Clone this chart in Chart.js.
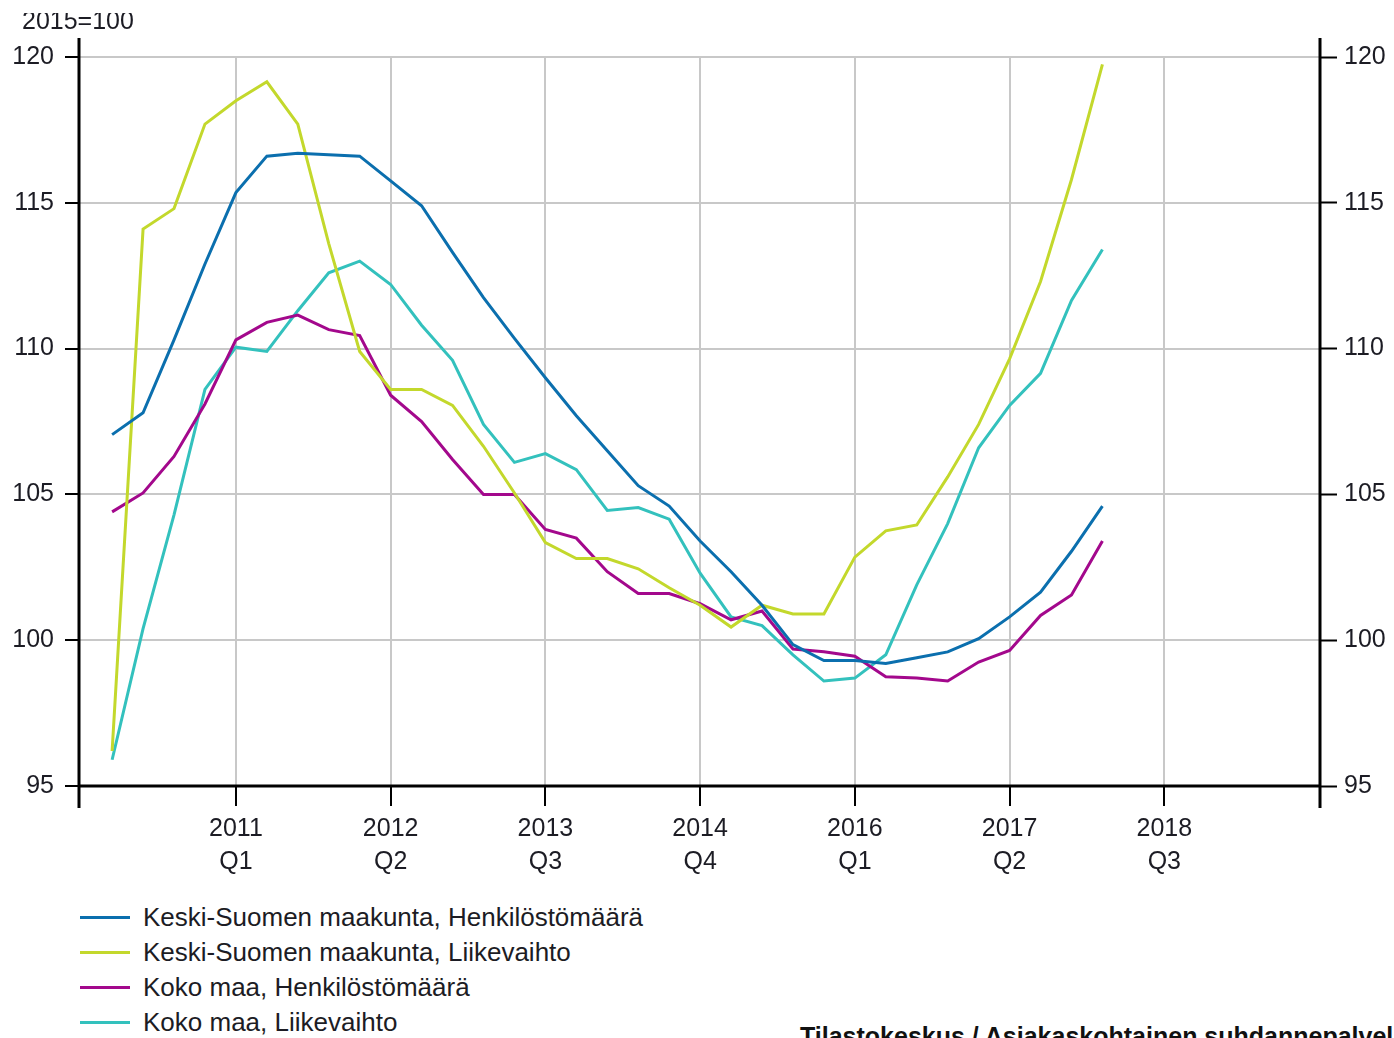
<!DOCTYPE html>
<html>
<head>
<meta charset="utf-8">
<script src="https://cdn.jsdelivr.net/npm/chart.js@4/dist/chart.umd.min.js"></script>
<style>
  html, body { margin:0; padding:0; background:#fff; width:1394px; height:1038px; overflow:hidden; }
  body { position:relative; font-family:"Liberation Sans", Arial, sans-serif; color:#1c1c24; }
  #wrap { position:absolute; left:0; top:0; width:1394px; height:890px; }
  #title { position:absolute; left:22px; top:13px; height:20px; overflow:hidden; width:200px; }
  #title span { position:absolute; left:0; top:-5px; font-size:25px; line-height:25px; white-space:nowrap; }
  .leg { position:absolute; left:80px; height:35px; width:700px; }
  .leg i { position:absolute; left:0; top:16px; width:50px; height:3px; }
  .leg span { position:absolute; left:63px; top:0; font-size:26px; line-height:35px; white-space:nowrap; }
  #source { position:absolute; left:800px; top:1022px; font-size:25px; font-weight:bold; white-space:nowrap; color:#111; }
</style>
</head>
<body>
<div id="wrap"><canvas id="c" width="1394" height="890"></canvas></div>
<div id="title"><span>2015=100</span></div>
<div id="legend"></div>
<div id="source">Tilastokeskus / Asiakaskohtainen suhdannepalvelu</div>
<script>
// Quarterly categories 2010Q1 .. 2018Q1
const categories = ["2010Q1","2010Q2","2010Q3","2010Q4","2011Q1","2011Q2","2011Q3","2011Q4",
  "2012Q1","2012Q2","2012Q3","2012Q4","2013Q1","2013Q2","2013Q3","2013Q4",
  "2014Q1","2014Q2","2014Q3","2014Q4","2015Q1","2015Q2","2015Q3","2015Q4",
  "2016Q1","2016Q2","2016Q3","2016Q4","2017Q1","2017Q2","2017Q3","2017Q4","2018Q1"];

const keskiHenkilosto = [107.05,107.8,110.3,112.9,115.35,116.6,116.7,116.65,116.6,115.75,114.9,113.3,
  111.75,110.35,109.0,107.7,106.5,105.3,104.6,103.4,102.35,101.2,99.85,99.3,
  99.3,99.2,99.4,99.6,100.05,100.8,101.65,103.05,104.6];

const keskiLiikevaihto = [96.2,114.1,114.8,117.7,118.5,119.15,117.7,113.6,109.9,108.6,108.6,108.05,
  106.65,105.05,103.35,102.8,102.8,102.45,101.8,101.2,100.45,101.2,100.9,100.9,
  102.85,103.75,103.95,105.6,107.4,109.65,112.3,115.8,119.75];

const kokoHenkilosto = [104.4,105.05,106.3,108.1,110.3,110.9,111.15,110.65,110.45,108.4,107.5,106.2,
  105.0,105.0,103.8,103.5,102.35,101.6,101.6,101.25,100.7,101.0,99.7,99.6,
  99.45,98.75,98.7,98.6,99.25,99.65,100.85,101.55,103.4];

const kokoLiikevaihto = [95.9,100.4,104.3,108.6,110.05,109.9,111.3,112.6,113.0,112.2,110.8,109.6,
  107.4,106.1,106.4,105.85,104.45,104.55,104.15,102.3,100.8,100.5,99.5,98.6,
  98.7,99.5,101.9,104.0,106.6,108.05,109.15,111.65,113.4];

const seriesNames = ["Keski-Suomen maakunta, Henkilöstömäärä","Keski-Suomen maakunta, Liikevaihto",
  "Koko maa, Henkilöstömäärä","Koko maa, Liikevaihto"];
const seriesColors = ["#0b6fae","#c3d82c","#a3088c","#33c1bd"];

const xTickLabels = ["2011 Q1","2012 Q2","2013 Q3","2014 Q4","2016 Q1","2017 Q2","2018 Q3"];
const yTicks = [95,100,105,110,115,120];

// quarter index relative to 2010Q1
function qIndex(lbl){ const m = lbl.match(/(\d{4})\s*Q(\d)/); return (+m[1]-2010)*4 + (+m[2]-1); }
const xTickValues = xTickLabels.map(qIndex);

const allSeries = [keskiHenkilosto, keskiLiikevaihto, kokoHenkilosto, kokoLiikevaihto];
const datasets = allSeries.map((vals, k) => ({
  label: seriesNames[k],
  data: vals.map((v,i) => ({x: qIndex(categories[i]), y: v})),
  borderColor: seriesColors[k],
  backgroundColor: seriesColors[k],
  borderWidth: 3,
  pointRadius: 0,
  tension: 0,
  fill: false
}));

const FONT = {family: "'Liberation Sans', Arial, sans-serif", size: 25};
const TXT = "#1c1c24";

const axisPlugin = {
  id: 'axisLines',
  afterDraw(chart){
    const {ctx, chartArea: a} = chart;
    ctx.save();
    ctx.strokeStyle = '#000';
    ctx.lineWidth = 3;
    ctx.beginPath();
    ctx.moveTo(a.left, a.top - 19); ctx.lineTo(a.left, a.bottom + 22);
    ctx.moveTo(a.right, a.top - 19); ctx.lineTo(a.right, a.bottom + 22);
    ctx.moveTo(a.left, a.bottom); ctx.lineTo(a.right, a.bottom);
    ctx.stroke();
    ctx.restore();
  }
};

new Chart(document.getElementById('c'), {
  type: 'line',
  data: { datasets },
  plugins: [axisPlugin],
  options: {
    responsive: false,
    animation: false,
    layout: { padding: { top: 57, left: 0, right: 0, bottom: 0 } },
    plugins: { legend: { display: false }, tooltip: { enabled: false } },
    scales: {
      x: {
        type: 'linear',
        min: qIndex("2010Q1") - 1.07,
        max: qIndex("2019Q4") + 0.03,
        afterBuildTicks: s => { s.ticks = xTickValues.map(v => ({value: v})); },
        afterFit: s => { s.height = 104; },
        ticks: {
          autoSkip: false, maxRotation: 0, padding: 7,
          font: {...FONT, lineHeight: 1.3}, color: TXT,
          callback: (v) => { const i = xTickValues.indexOf(v); return i >= 0 ? xTickLabels[i].split(' ') : ''; }
        },
        grid: { color: '#c8c8c8', lineWidth: 2, tickColor: '#000', tickLength: 20, tickWidth: 2 },
        border: { display: false }
      },
      y: {
        position: 'left',
        min: 95, max: 120,
        afterBuildTicks: s => { s.ticks = yTicks.map(v => ({value: v})); },
        afterFit: s => { s.width = 79; },
        ticks: { padding: 11, font: FONT, color: TXT },
        grid: { color: '#c8c8c8', lineWidth: 2, tickColor: '#000', tickLength: 14, tickWidth: 2 },
        border: { display: false }
      },
      y2: {
        position: 'right',
        min: 95, max: 120,
        afterBuildTicks: s => { s.ticks = yTicks.map(v => ({value: v})); },
        afterFit: s => { s.width = 74; },
        ticks: { padding: 7, font: FONT, color: TXT },
        grid: { drawOnChartArea: false, tickColor: '#000', tickLength: 17, tickWidth: 2 },
        border: { display: false }
      }
    }
  }
});

// HTML legend
const legendTops = [900, 935, 970, 1005];
const legEl = document.getElementById('legend');
seriesNames.forEach((name, k) => {
  const d = document.createElement('div');
  d.className = 'leg';
  d.style.top = legendTops[k] + 'px';
  const i = document.createElement('i'); i.style.background = seriesColors[k];
  const s = document.createElement('span'); s.textContent = name;
  d.appendChild(i); d.appendChild(s);
  legEl.appendChild(d);
});
</script>
</body>
</html>
